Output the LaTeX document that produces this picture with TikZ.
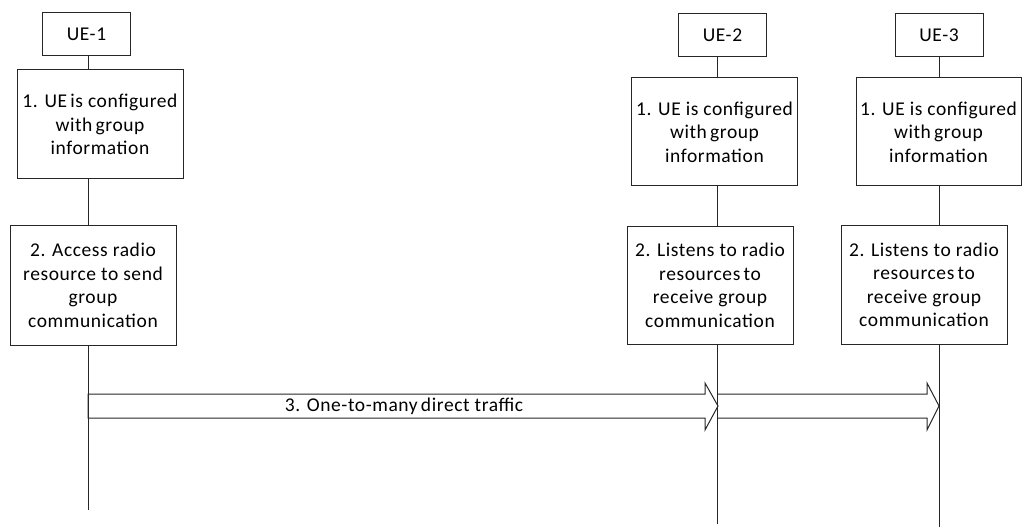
\documentclass[tikz,border=0pt]{standalone}
\usepackage{fontspec}
\setmainfont{Carlito}[LetterSpace=3]
\usetikzlibrary{calc}
\begin{document}
\begin{tikzpicture}[x=1pt,y=-1pt]
  %
  \tikzstyle{ue} = [draw=black!85, fill=white, line width=1pt, minimum width=88pt, minimum height=43pt, inner sep=0pt, font=\fontsize{19.5}{23}\selectfont]
  \tikzstyle{act} = [draw=black!85, fill=white, line width=1pt, minimum width=166pt, inner sep=0pt, align=center, font=\fontsize{19.5}{23.5}\selectfont]
  \tikzstyle{life} = [draw=black!85, line width=1pt]
  \useasboundingbox (0,0) rectangle (1022,529);
  \node[ue] (ue1) at (86.5,34) {UE-1};
  \node[ue] (ue2) at (722.5,35.5) {UE-2};
  \node[ue] (ue3) at (939,35.5) {UE-3};
  \coordinate (end1) at (88,510);
  \coordinate (end2) at (717,524);
  \coordinate (end3) at (939,527);
  \draw[life] (ue1.south -| end1) -- (end1);
  \draw[life] (ue2.south -| end2) -- (end2);
  \draw[life] (ue3.south -| end3) -- (end3);
  %
  \node[act, minimum height=109pt] (cfg1) at (100,124.5) {1. UE\,is configured\\with\,group\\information};
  \node[act, minimum height=108pt] (cfg2) at (714.5,132) {1. UE is configured\\with\,group\\information};
  \node[act, minimum height=108pt, minimum width=165pt] (cfg3) at (938.5,132) {1. UE is configured\\with\,group\\information};
  \node[act, minimum height=119pt] (acc1) at (93,285.5) {2. Access radio\\resource to send\\group\\communication};
  \node[act, minimum height=117pt] (lis2) at (710,285.5) {2. Listens to radio\\resources\,to\\receive group\\communication};
  \node[act, minimum height=118pt] (lis3) at (924,285) {2. Listens to radio\\resources\,to\\receive group\\communication};
  %
  \coordinate (m1) at (88,406);
  \coordinate (m2) at (718,406);
  \coordinate (m3) at (939,406);
  \draw[life] ($(m1)+(0,-12)$) -- ($(m2)+(-13,-12)$) -- ($(m2)+(-13,-23)$) -- (m2)
    -- ($(m2)+(-13,24)$) -- ($(m2)+(-13,12)$) -- ($(m1)+(0,12)$) -- cycle;
  \draw[life] ($(m2)+(0,-12)$) -- ($(m3)+(-12,-12)$) -- ($(m3)+(-12,-23)$) -- (m3)
    -- ($(m3)+(-12,24)$) -- ($(m3)+(-12,12)$) -- ($(m2)+(0,12)$);
  \node[font=\fontsize{19.5}{23}\selectfont, inner sep=0pt] (traffic) at (404,406) {3. One-to-many\,direct traffic};
\end{tikzpicture}
\end{document}
